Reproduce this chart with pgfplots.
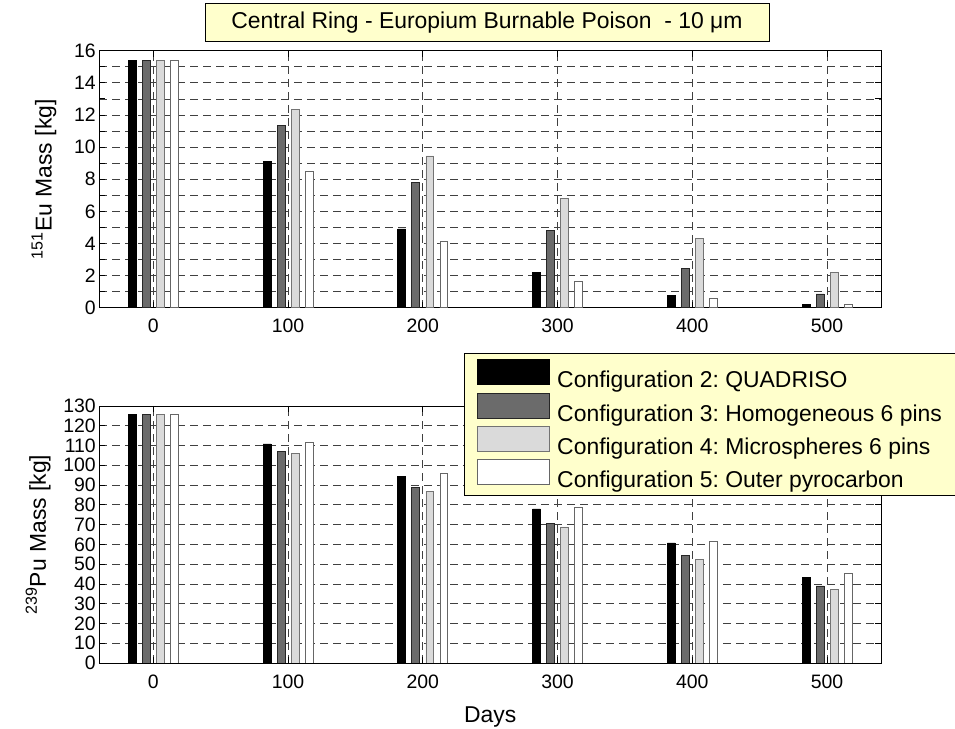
\documentclass[border=0pt]{standalone}
\usepackage{pgfplots}
\pgfplotsset{compat=1.18}
\usepackage{fontspec}
\setmainfont{Liberation Sans}
\frenchspacing

\definecolor{darkbar}{RGB}{107,107,107}
\definecolor{lightbar}{RGB}{218,218,218}
\definecolor{boxbg}{RGB}{255,255,204}

\newcommand{\tickfont}{\fontsize{19.5}{22}\selectfont}
\newcommand{\labfont}{\fontsize{23}{27}\selectfont}
\newcommand{\legfont}{\fontsize{23}{27}\selectfont}

\pgfplotsset{
  swatch/.style={legend image code/.code={%
      \draw[##1,/tikz/.cd,line width=0.8bp] (0bp,-4.5bp) rectangle (72bp,20.5bp);}},
  cfgA/.style={ybar, bar width=5.8, bar shift=-15.6, fill=black, draw=black, line width=0.7bp, swatch},
  cfgB/.style={ybar, bar width=5.8, bar shift=-5.2, fill=darkbar, draw=black!85, line width=0.7bp, swatch},
  cfgC/.style={ybar, bar width=5.8, bar shift=5.2, fill=lightbar, draw=black!55, line width=0.7bp, swatch},
  cfgD/.style={ybar, bar width=5.8, bar shift=15.6, fill=white, draw=black!60, line width=0.7bp, swatch},
  panel/.style={
    width=781.7bp, scale only axis,
    xmin=-40, xmax=540,
    xtick={0,100,200,300,400,500},
    ymin=0,
    grid=major,
    major grid style={black!75, line width=0.7bp, dash pattern=on 8bp off 5bp},
    tick align=inside,
    major tick length=6bp,
    axis line style={black, line width=0.9bp},
    tick style={black, line width=0.8bp},
    /pgf/number format/assume math mode=true,
    tick label style={font=\tickfont},
    xticklabel style={yshift=-8bp},
    label style={font=\labfont},
  },
}

\begin{document}
\begin{tikzpicture}
\useasboundingbox (0,0) rectangle (955bp,729bp);

% upper panel: Eu-151 inventory
\begin{axis}[panel,
  at={(99.3bp,421.3bp)}, anchor=south west,
  height=257bp,
  ymax=16,
  ytick={0,1,...,16},
  yticklabels={0,,2,,4,,6,,8,,10,,12,,14,,16},
  ylabel={\textsuperscript{151}Eu Mass [kg]},
  ylabel shift=11bp,
]
\addplot[cfgA] coordinates {(0,15.4) (100,9.1) (200,4.9) (300,2.2) (400,0.78) (500,0.23)};
\addplot[cfgB] coordinates {(0,15.4) (100,11.35) (200,7.8) (300,4.8) (400,2.46) (500,0.86)};
\addplot[cfgC] coordinates {(0,15.4) (100,12.35) (200,9.45) (300,6.8) (400,4.33) (500,2.22)};
\addplot[cfgD] coordinates {(0,15.4) (100,8.47) (200,4.12) (300,1.66) (400,0.56) (500,0.21)};
\end{axis}

% lower panel: Pu-239 inventory
\begin{axis}[panel,
  at={(99.3bp,66bp)}, anchor=south west,
  height=257bp,
  ymax=130,
  ytick={0,10,...,130},
  ylabel={\textsuperscript{239}Pu Mass [kg]},
  ylabel shift=6bp,
  xlabel={Days},
  xlabel shift=12bp,
  legend style={
    at={(axis description cs:0.4666,1.2074)}, anchor=north west,
    fill=boxbg, draw=black, line width=0.8bp,
    font=\legfont,
    inner xsep=13bp, inner ysep=6bp,
    row sep=3.5bp, column sep=7bp,
    nodes={inner sep=0pt},
  },
  legend cell align=left,
]
\addplot[cfgA] coordinates {(0,125.6) (100,110.8) (200,94.4) (300,77.9) (400,60.7) (500,43.5)};
\addplot[cfgB] coordinates {(0,125.6) (100,107.1) (200,89.0) (300,70.8) (400,54.3) (500,39.0)};
\addplot[cfgC] coordinates {(0,125.6) (100,106.2) (200,87.0) (300,68.8) (400,52.6) (500,37.1)};
\addplot[cfgD] coordinates {(0,125.6) (100,111.8) (200,96.1) (300,78.9) (400,61.7) (500,45.2)};
\addlegendentry{Configuration 2: QUADRISO}
\addlegendentry{Configuration 3: Homogeneous 6 pins}
\addlegendentry{Configuration 4: Microspheres 6 pins}
\addlegendentry{Configuration 5: Outer pyrocarbon}
\end{axis}

\node[draw=black, line width=0.8bp, fill=boxbg, minimum width=564bp, minimum height=38.5bp,
      inner sep=0pt, font=\legfont] at (487bp,706.5bp)
  {Central Ring - Europium Burnable Poison\ \ - 10 μm};
\end{tikzpicture}
\end{document}
